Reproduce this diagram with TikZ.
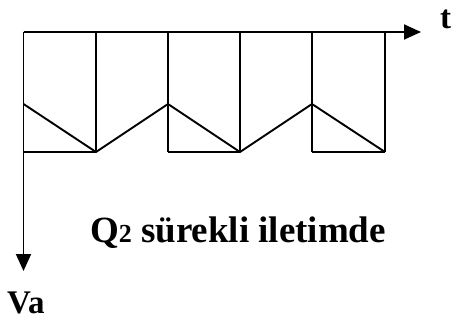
\documentclass[tikz,border=0pt]{standalone}
\usepackage{fontspec}
\setmainfont{Liberation Serif}
\usetikzlibrary{arrows.meta}

\begin{document}
\begin{tikzpicture}[x=1pt, y=-1pt, >={Triangle[length=17pt,width=15pt]},
    wave/.style={line width=1.9pt, line join=miter},
    lbl/.style={inner sep=0pt, font=\bfseries\fontsize{33}{35}\selectfont}]
    \useasboundingbox (0,0) rectangle (452,320);

    % axes
    \coordinate (O) at (23.5,32);
    \coordinate (tend) at (421,32);
    \coordinate (vend) at (23.5,271);
    \draw[wave,->] (O) -- (tend);
    \draw[wave,->] (O) -- (vend);
    \node[lbl, anchor=base west] (t) at (440,29) {t};
    \node[lbl, anchor=base west] (Va) at (7,313) {Va};

    % switching periods
    \foreach \x in {96,168,240,312,385}
      \draw[wave] (\x,32) -- (\x,152);
    \foreach \a/\b in {23.5/96,168/240,312/385}
      \draw[wave] (\a,152) -- (\b,152);
    \draw[wave] (23.5,104) -- (96,152) -- (168,104) -- (240,152) -- (312,104) -- (385,152);

    \node[inner sep=0pt, anchor=base, font=\bfseries\fontsize{37}{40}\selectfont] (mode) at (238,243)
      {Q{\fontsize{26}{28}\selectfont 2} sürekli iletimde};
\end{tikzpicture}
\end{document}
